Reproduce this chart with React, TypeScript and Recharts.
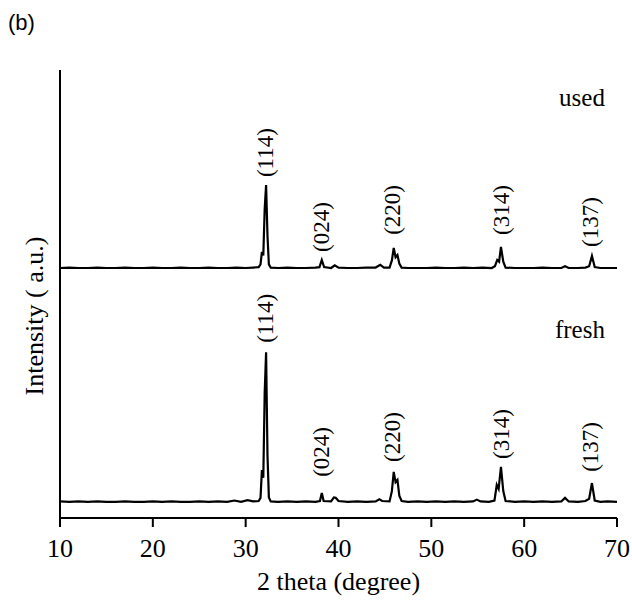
import React from 'react';
import { ComposedChart, Line, Scatter, XAxis, YAxis, Label } from 'recharts';

// XRD patterns, x = 2 theta (degree), y = intensity (a.u., stacked)
const freshPattern = [
  { x: 10, y: 3.7 }, { x: 11, y: 3.6 }, { x: 12, y: 3.7 }, { x: 13, y: 3.6 },
  { x: 14, y: 3.7 }, { x: 15, y: 3.6 }, { x: 16, y: 3.6 }, { x: 17, y: 3.7 },
  { x: 18, y: 3.6 }, { x: 19, y: 3.6 }, { x: 20, y: 3.7 }, { x: 21, y: 3.6 },
  { x: 22, y: 3.7 }, { x: 23, y: 3.6 }, { x: 24, y: 3.6 }, { x: 25, y: 3.7 },
  { x: 26, y: 3.6 }, { x: 27, y: 3.7 }, { x: 28, y: 3.6 }, { x: 28.8, y: 3.9 },
  { x: 29.5, y: 3.6 }, { x: 30.2, y: 4.0 }, { x: 30.8, y: 3.7 }, { x: 31.4, y: 3.8 },
  { x: 31.6, y: 4.5 }, { x: 31.75, y: 10.7 }, { x: 31.9, y: 9.0 }, { x: 32.05, y: 28 },
  { x: 32.2, y: 37.0 }, { x: 32.35, y: 14 }, { x: 32.5, y: 4.6 }, { x: 32.7, y: 3.7 },
  { x: 33.5, y: 3.6 }, { x: 34.5, y: 3.7 }, { x: 35.5, y: 3.6 }, { x: 36.5, y: 3.7 },
  { x: 37.5, y: 3.6 }, { x: 38.0, y: 3.8 }, { x: 38.2, y: 5.6 }, { x: 38.4, y: 3.8 },
  { x: 39.2, y: 3.7 }, { x: 39.5, y: 4.6 }, { x: 39.7, y: 4.5 }, { x: 40.0, y: 3.8 },
  { x: 41, y: 3.6 }, { x: 42, y: 3.7 }, { x: 43, y: 3.6 }, { x: 44, y: 3.7 },
  { x: 44.4, y: 4.2 }, { x: 44.7, y: 3.8 }, { x: 45.5, y: 3.7 }, { x: 45.75, y: 6 },
  { x: 45.95, y: 10.3 }, { x: 46.15, y: 8.0 }, { x: 46.35, y: 8.5 }, { x: 46.55, y: 5 },
  { x: 46.8, y: 3.8 }, { x: 47.5, y: 3.6 }, { x: 48.5, y: 3.7 }, { x: 49.5, y: 3.6 },
  { x: 50.5, y: 3.7 }, { x: 51.5, y: 3.6 }, { x: 52.5, y: 3.7 }, { x: 53.5, y: 3.6 },
  { x: 54.5, y: 3.7 }, { x: 54.9, y: 4.1 }, { x: 55.3, y: 3.7 }, { x: 56.2, y: 3.6 },
  { x: 56.8, y: 3.9 }, { x: 57.05, y: 7.4 }, { x: 57.25, y: 6.5 }, { x: 57.5, y: 11.4 },
  { x: 57.75, y: 6 }, { x: 58.0, y: 3.8 }, { x: 59, y: 3.6 }, { x: 60, y: 3.7 },
  { x: 61, y: 3.6 }, { x: 62, y: 3.7 }, { x: 63, y: 3.6 }, { x: 64, y: 3.7 },
  { x: 64.4, y: 4.5 }, { x: 64.8, y: 3.7 }, { x: 65.8, y: 3.6 }, { x: 66.6, y: 3.8 },
  { x: 67.0, y: 4.3 }, { x: 67.3, y: 7.8 }, { x: 67.6, y: 3.9 }, { x: 68.2, y: 3.6 },
  { x: 69, y: 3.7 }, { x: 70, y: 3.6 },
];

const usedPattern = [
  { x: 10, y: 55.8 }, { x: 11, y: 55.9 }, { x: 12, y: 55.8 }, { x: 13, y: 55.8 },
  { x: 14, y: 55.9 }, { x: 15, y: 55.8 }, { x: 16, y: 55.8 }, { x: 17, y: 55.9 },
  { x: 18, y: 55.8 }, { x: 19, y: 55.8 }, { x: 20, y: 55.9 }, { x: 21, y: 55.8 },
  { x: 22, y: 55.8 }, { x: 23, y: 55.9 }, { x: 24, y: 55.8 }, { x: 25, y: 55.8 },
  { x: 26, y: 55.9 }, { x: 27, y: 55.8 }, { x: 28, y: 55.8 }, { x: 29, y: 55.9 },
  { x: 30, y: 55.8 }, { x: 30.8, y: 55.9 }, { x: 31.4, y: 56.0 }, { x: 31.6, y: 56.6 },
  { x: 31.75, y: 59.4 }, { x: 31.9, y: 58.6 }, { x: 32.05, y: 69 }, { x: 32.2, y: 74.3 },
  { x: 32.35, y: 63 }, { x: 32.5, y: 56.6 }, { x: 32.7, y: 55.9 }, { x: 33.5, y: 55.8 },
  { x: 34.5, y: 55.9 }, { x: 35.5, y: 55.8 }, { x: 36.5, y: 55.8 }, { x: 37.5, y: 55.9 },
  { x: 37.95, y: 56.0 }, { x: 38.2, y: 57.6 }, { x: 38.45, y: 56.0 }, { x: 39.2, y: 55.8 },
  { x: 39.6, y: 56.4 }, { x: 40.0, y: 55.9 }, { x: 41, y: 55.8 }, { x: 42, y: 55.8 },
  { x: 43, y: 55.9 }, { x: 44, y: 55.9 }, { x: 44.5, y: 56.5 }, { x: 44.9, y: 55.9 },
  { x: 45.5, y: 55.9 }, { x: 45.75, y: 57.5 }, { x: 45.95, y: 60.3 }, { x: 46.15, y: 58.2 },
  { x: 46.35, y: 58.7 }, { x: 46.55, y: 56.8 }, { x: 46.8, y: 55.9 }, { x: 47.5, y: 55.8 },
  { x: 48.5, y: 55.8 }, { x: 49.5, y: 55.8 }, { x: 50.5, y: 55.9 }, { x: 51.5, y: 55.8 },
  { x: 52.5, y: 55.8 }, { x: 53.5, y: 55.9 }, { x: 54.5, y: 55.8 }, { x: 55.5, y: 55.9 },
  { x: 56.5, y: 55.8 }, { x: 56.85, y: 56.2 }, { x: 57.1, y: 57.6 }, { x: 57.3, y: 57.2 },
  { x: 57.5, y: 60.5 }, { x: 57.75, y: 57.2 }, { x: 58.0, y: 55.9 }, { x: 59, y: 55.8 },
  { x: 60, y: 55.8 }, { x: 61, y: 55.8 }, { x: 62, y: 55.9 }, { x: 63, y: 55.8 },
  { x: 64, y: 55.8 }, { x: 64.4, y: 56.2 }, { x: 64.8, y: 55.8 }, { x: 65.8, y: 55.8 },
  { x: 66.6, y: 55.9 }, { x: 67.0, y: 56.2 }, { x: 67.3, y: 58.5 }, { x: 67.6, y: 56.0 },
  { x: 68.2, y: 55.8 }, { x: 69, y: 55.8 }, { x: 70, y: 55.8 },
];

// Miller indices above the peaks (label foot position)
const peakNames = ['(114)', '(024)', '(220)', '(314)', '(137)'];
const peakAngles = [32.2, 38.2, 45.9, 57.6, 67.2];
const usedLabelY = [76.1, 59.4, 63.2, 63.2, 60.5];
const freshLabelY = [39.1, 9.2, 12.5, 13.2, 10.3];

const sampleNames = ['used', 'fresh'];
const sampleLabelY = [92.0, 40.2];
const sampleLabelX = 68.7;

const xTicks = [10, 20, 30, 40, 50, 60, 70];

const peakLabels = [
  ...peakNames.map((name, i) => ({ x: peakAngles[i], y: usedLabelY[i], name })),
  ...peakNames.map((name, i) => ({ x: peakAngles[i], y: freshLabelY[i], name })),
];
const sampleLabels = sampleNames.map((name, i) => ({ x: sampleLabelX, y: sampleLabelY[i], name }));

const FONT = 'Liberation Serif';

const PeakText = (props: any) => {
  const { cx, cy, payload } = props;
  return (
    <text
      x={cx}
      y={cy}
      dy="0.3em"
      transform={`rotate(-90 ${cx} ${cy})`}
      textAnchor="start"
      fontFamily={FONT}
      fontSize={23}
      fill="#000"
    >
      {payload.name}
    </text>
  );
};

const SampleText = (props: any) => {
  const { cx, cy, payload } = props;
  return (
    <text x={cx} y={cy} textAnchor="end" fontFamily={FONT} fontSize={25} fill="#000">
      {payload.name}
    </text>
  );
};

export default function App() {
  return (
    <div style={{ position: 'absolute', left: 0, top: 0, width: 632, height: 600, background: '#fff', fontFamily: FONT }}>
      <div
        style={{
          position: 'absolute',
          left: 8,
          top: 10,
          fontFamily: 'Liberation Sans',
          fontSize: 22,
          color: '#000',
        }}
      >
        (b)
      </div>
      <ComposedChart width={632} height={600} margin={{ top: 70, right: 15, bottom: 0, left: 0 }}>
        <XAxis
          dataKey="x"
          type="number"
          domain={[10, 70]}
          ticks={xTicks}
          allowDataOverflow
          axisLine={{ stroke: '#000', strokeWidth: 2 }}
          tickLine={{ stroke: '#000', strokeWidth: 2 }}
          tickSize={9}
          tickMargin={12}
          tick={{ fill: '#000', fontSize: 26, fontFamily: FONT }}
          height={82}
        >
          <Label
            content={(p: any) => (
              <text
                x={p.viewBox.x + p.viewBox.width / 2}
                y={p.viewBox.y + 72}
                textAnchor="middle"
                fontFamily={FONT}
                fontSize={26}
                fill="#000"
              >
                2 theta (degree)
              </text>
            )}
          />
        </XAxis>
        <XAxis
          xAxisId="top"
          orientation="top"
          type="number"
          domain={[10, 70]}
          height={0}
          tick={false}
          tickLine={false}
          axisLine={{ stroke: '#000', strokeWidth: 2 }}
        />
        <YAxis
          type="number"
          domain={[0, 100]}
          width={60}
          tick={false}
          tickLine={false}
          axisLine={{ stroke: '#000', strokeWidth: 2 }}
        >
          <Label
            content={(p: any) => {
              const cx = 43;
              const cy = p.viewBox.y + p.viewBox.height / 2 + 22;
              return (
                <text
                  x={cx}
                  y={cy}
                  transform={`rotate(-90 ${cx} ${cy})`}
                  textAnchor="middle"
                  fontFamily={FONT}
                  fontSize={26}
                  fill="#000"
                >
                  Intensity ( a.u.)
                </text>
              );
            }}
          />
        </YAxis>
        <YAxis
          yAxisId="right"
          orientation="right"
          type="number"
          domain={[0, 100]}
          width={0}
          tick={false}
          tickLine={false}
          axisLine={{ stroke: '#000', strokeWidth: 2 }}
        />
        <Line
          data={freshPattern}
          dataKey="y"
          type="linear"
          stroke="#000"
          strokeWidth={2.2}
          dot={false}
          isAnimationActive={false}
        />
        <Line
          data={usedPattern}
          dataKey="y"
          type="linear"
          stroke="#000"
          strokeWidth={2.2}
          dot={false}
          isAnimationActive={false}
        />
        <Scatter data={peakLabels} dataKey="y" shape={PeakText} isAnimationActive={false} />
        <Scatter data={sampleLabels} dataKey="y" shape={SampleText} isAnimationActive={false} />
      </ComposedChart>
    </div>
  );
}
